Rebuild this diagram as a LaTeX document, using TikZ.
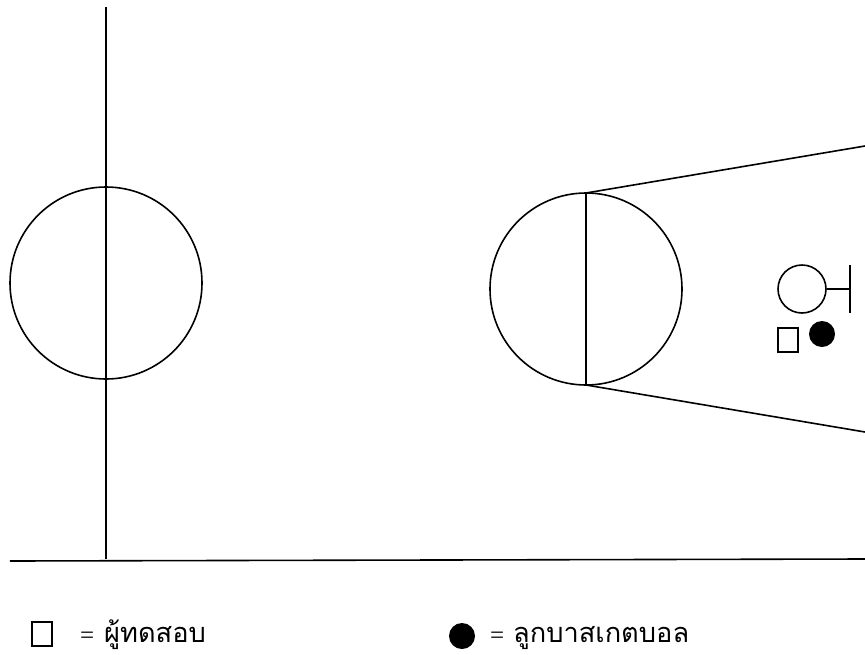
\documentclass[tikz,border=0pt]{standalone}
\usepackage{fontspec}
\newfontfamily\thaifont[Script=Thai]{Loma}
\newfontfamily\eqfont{Liberation Serif}
\tikzset{
  ln/.style={line width=1.6pt,black},
  lbl/.style={inner sep=0pt,anchor=base west,font=\thaifont\fontsize{27.2}{29}\selectfont},
  eqs/.style={inner sep=0pt,anchor=base west,font=\eqfont\fontsize{25}{27}\selectfont},
}
\begin{document}
\begin{tikzpicture}[x=1pt,y=-1pt]
\useasboundingbox (0,0) rectangle (865,654);
% lines
\coordinate (ct) at (106,7); \coordinate (cb) at (106,559);
\coordinate (bl) at (10,561); \coordinate (br) at (865,559);
\draw[ln] (ct) -- (cb);
\draw[ln] (bl) -- (br);
\node[circle,draw,ln,minimum size=192pt,inner sep=0pt] (c1) at (106,283) {};
\node[circle,draw,ln,minimum size=192pt,inner sep=0pt] (c2) at (586,289) {};
\coordinate (ft) at (586,193); \coordinate (fb) at (586,385);
\coordinate (kt) at (865,146); \coordinate (kb) at (865,432);
\draw[ln] (ft) -- (fb);
\draw[ln] (ft) -- (kt);
\draw[ln] (fb) -- (kb);
% hoop
\node[circle,draw,ln,minimum size=48pt,inner sep=0pt] (hoop) at (802,289) {};
\coordinate (bt) at (850,265); \coordinate (bb) at (850,313); \coordinate (bm) at (850,289);
\draw[ln] (bt) -- (bb);
\draw[ln] (hoop.east) -- (bm);
% player and ball
\node[rectangle,draw,ln,minimum width=20pt,minimum height=24pt,inner sep=0pt] (player) at (788,340) {};
\node[circle,fill=black,minimum size=26pt,inner sep=0pt] (ball) at (822,334) {};
% legend
\node[rectangle,draw,ln,minimum width=20pt,minimum height=24pt,inner sep=0pt] (lp) at (42,634) {};
\node[eqs] (eq1) at (80,643) {=};
\node[lbl] (t1) at (104,642) {ผู้ทดสอบ};
\node[circle,fill=black,minimum size=26pt,inner sep=0pt] (lb) at (462,636) {};
\node[eqs] (eq2) at (490,643) {=};
\node[lbl] (t2) at (513,642) {ลูกบาสเกตบอล};
\end{tikzpicture}
\end{document}
